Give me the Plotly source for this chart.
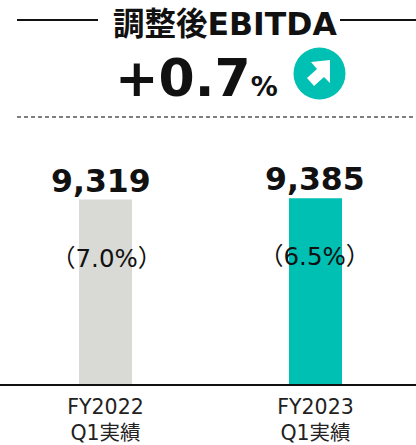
import plotly.graph_objects as go

categories = ["FY2022<br>Q1実績", "FY2023<br>Q1実績"]
values = [9319, 9385]
value_labels = ["9,319", "9,385"]
margin_labels = ["（7.0%）", "（6.5%）"]
bar_colors = ["#D9DAD5", "#00BFB3"]
W, H = 416, 445
PLOT_H = 384
JP = "DejaVu Sans, Noto Sans CJK JP, sans-serif"

def px(x):
    return x / W

def py(y):
    return 1 - y / PLOT_H

fig = go.Figure(go.Bar(x=[0, 1], y=values, width=53 / 210, marker=dict(color=bar_colors, line_width=0), hoverinfo="skip"))

ann = []
for i, (vl, ml) in enumerate(zip(value_labels, margin_labels)):
    ann.append(dict(x=px([101, 315][i]), y=py([181, 179][i]), xref="paper", yref="paper", text=f"<b>{vl}</b>",
                    showarrow=False, font=dict(size=31.5, color="#111", family=JP), xanchor="center", yanchor="middle"))
    ann.append(dict(x=px([106, 314][i]), y=py([258, 256][i]), xref="paper", yref="paper", text=ml,
                    showarrow=False, font=dict(size=24.5, color="#111", family=JP), xanchor="center", yanchor="middle"))
ann.append(dict(x=px(225), y=py(24), xref="paper", yref="paper", text="<b>調整後EBITDA</b>", showarrow=False,
                font=dict(size=31.5, color="#111", family=JP), xanchor="center", yanchor="middle"))
ann.append(dict(x=px(113), y=py(78), xref="paper", yref="paper",
                text="<b>+0.7<span style='font-size:27px'>%</span></b>", showarrow=False,
                font=dict(size=52, color="#111", family=JP), xanchor="left", yanchor="middle"))

shapes = [
    dict(type="line", xref="paper", yref="paper", x0=px(17), x1=px(98), y0=py(20), y1=py(20), line=dict(color="#111", width=2)),
    dict(type="line", xref="paper", yref="paper", x0=px(340), x1=px(416), y0=py(20), y1=py(20), line=dict(color="#111", width=2)),
    dict(type="line", xref="paper", yref="paper", x0=px(17), x1=px(416), y0=py(117), y1=py(117), line=dict(color="#555", width=1.3, dash="4px,3px")),
    dict(type="circle", xref="paper", yref="paper", x0=px(293.5), x1=px(345.5), y0=py(99.5), y1=py(47.5), fillcolor="#00BFB3", line_width=0),
]
arrow = [(330, 60), (330, 83), (324, 77), (314, 86), (307, 78), (317, 69), (311, 62)]
path = "M " + " L ".join(f"{px(x):.5f},{py(y):.5f}" for x, y in arrow) + " Z"
shapes.append(dict(type="path", xref="paper", yref="paper", path=path, fillcolor="white", line_width=0))

fig.update_layout(
    width=W, height=H, margin=dict(l=0, r=0, t=0, b=61), autosize=False,
    paper_bgcolor="white", plot_bgcolor="white", showlegend=False,
    annotations=ann, shapes=shapes,
    xaxis=dict(range=[-105.5 / 210, 310.5 / 210], tickvals=[0, 1], ticktext=categories, showgrid=False, zeroline=False,
               automargin=False,
               showline=True, linecolor="#111", linewidth=2, ticks="outside", ticklen=3, tickcolor="rgba(0,0,0,0)",
               tickfont=dict(size=20.5, color="#222", family=JP)),
    yaxis=dict(range=[0, 19400], visible=False),
)
fig.write_html("out.html", config={"displayModeBar": False},
               post_script="document.body.style.margin='0';document.body.style.overflow='hidden';")
